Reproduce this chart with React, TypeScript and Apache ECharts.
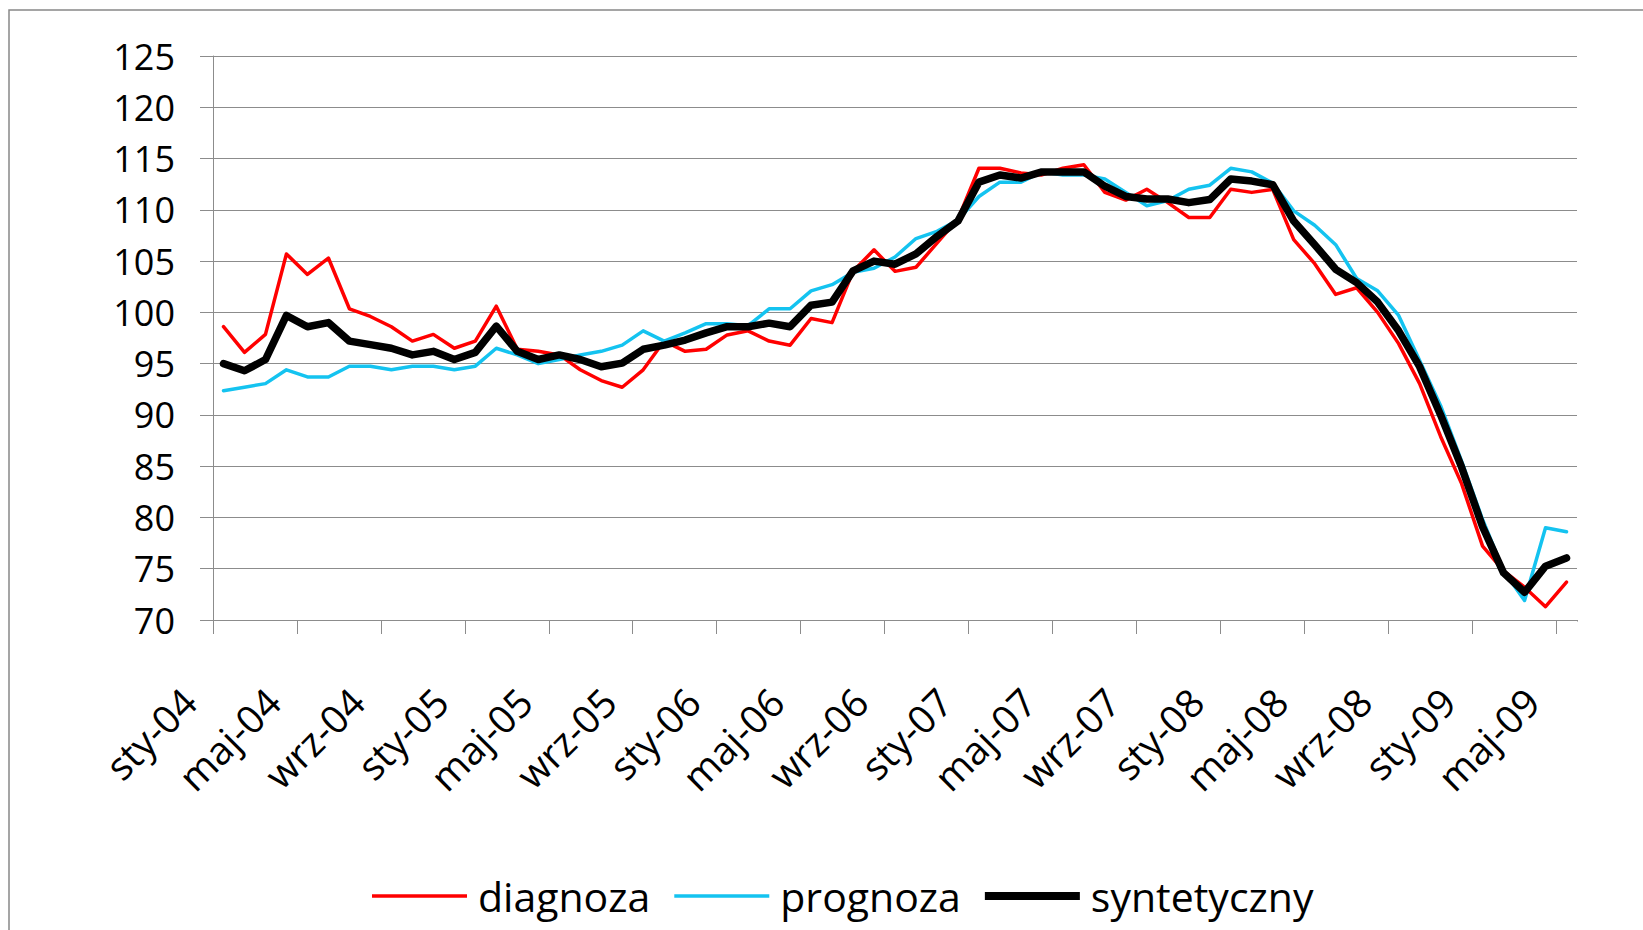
import React, { useEffect, useRef } from "react";
import * as echarts from "echarts";

const categories: string[] = [
  "sty-04", "lut-04", "mar-04", "kwi-04", "maj-04", "cze-04", "lip-04", "sie-04", "wrz-04", "paź-04", "lis-04", "gru-04",
  "sty-05", "lut-05", "mar-05", "kwi-05", "maj-05", "cze-05", "lip-05", "sie-05", "wrz-05", "paź-05", "lis-05", "gru-05",
  "sty-06", "lut-06", "mar-06", "kwi-06", "maj-06", "cze-06", "lip-06", "sie-06", "wrz-06", "paź-06", "lis-06", "gru-06",
  "sty-07", "lut-07", "mar-07", "kwi-07", "maj-07", "cze-07", "lip-07", "sie-07", "wrz-07", "paź-07", "lis-07", "gru-07",
  "sty-08", "lut-08", "mar-08", "kwi-08", "maj-08", "cze-08", "lip-08", "sie-08", "wrz-08", "paź-08", "lis-08", "gru-08",
  "sty-09", "lut-09", "mar-09", "kwi-09", "maj-09",
];

const diagnoza: number[] = [
  98.6, 96.1, 97.85, 105.7, 103.7, 105.3, 100.35, 99.6, 98.6, 97.2, 97.85, 96.5,
  97.2, 100.6, 96.4, 96.2, 95.85, 94.4, 93.35, 92.7, 94.4, 97.2, 96.2, 96.4,
  97.8, 98.2, 97.2, 96.8, 99.4, 99.0, 104.0, 106.1, 104.0, 104.4, 106.75, 109.1,
  114.05, 114.05, 113.6, 113.4, 114.05, 114.4, 111.7, 110.95, 112.0, 110.7, 109.25, 109.25,
  112.0, 111.7, 112.0, 107.1, 104.75, 101.75, 102.4, 100.0, 96.95, 93.05, 87.9, 83.3,
  77.2, 74.8, 73.2, 71.3, 73.7,
];

const prognoza: number[] = [
  92.35, 92.7, 93.05, 94.4, 93.7, 93.7, 94.75, 94.75, 94.4, 94.75, 94.75, 94.4,
  94.75, 96.5, 95.85, 95.0, 95.4, 95.85, 96.2, 96.8, 98.2, 97.2, 98.0, 98.9,
  98.9, 98.7, 100.35, 100.35, 102.1, 102.7, 103.9, 104.3, 105.4, 107.2, 107.9, 109.0,
  111.3, 112.7, 112.7, 113.7, 113.4, 113.4, 113.0, 111.7, 110.4, 110.9, 112.0, 112.4,
  114.05, 113.7, 112.6, 109.9, 108.5, 106.6, 103.3, 102.1, 99.7, 95.3, 90.9, 85.5,
  79.8, 74.8, 71.9, 79.0, 78.6,
];

const syntetyczny: number[] = [
  95.0, 94.3, 95.4, 99.7, 98.6, 99.0, 97.2, 96.85, 96.5, 95.85, 96.2, 95.4,
  96.1, 98.65, 96.2, 95.4, 95.85, 95.4, 94.7, 95.05, 96.4, 96.8, 97.3, 98.0,
  98.6, 98.6, 98.95, 98.6, 100.7, 101.0, 104.05, 105.0, 104.7, 105.7, 107.4, 108.9,
  112.7, 113.4, 113.1, 113.7, 113.7, 113.7, 112.3, 111.3, 111.05, 111.05, 110.7, 111.0,
  113.0, 112.8, 112.45, 108.9, 106.6, 104.2, 102.9, 101.0, 98.2, 94.7, 90.0, 84.9,
  79.1, 74.6, 72.7, 75.25, 76.05,
];

const seriesNames: string[] = ["diagnoza", "prognoza", "syntetyczny"];
const seriesColors: string[] = ["#ff0000", "#14c3f0", "#000000"];

const FONT = "'Open Sans', sans-serif";
const GRAY = "#8c8c8c";

export default function App() {
  const ref = useRef<HTMLDivElement>(null);

  useEffect(() => {
    if (!ref.current) return;
    const chart = echarts.init(ref.current, undefined, { renderer: "svg" });
    const thinIcon = "path://M0,0L0,0M0,2.2L95,2.2L95,5.8L0,5.8ZM0,8L0,8";
    const thickIcon = "path://M0,0L95,0L95,8L0,8Z";
    chart.setOption({
      animation: false,
      backgroundColor: "#ffffff",
      textStyle: { fontFamily: FONT },
      graphic: [
        {
          type: "rect",
          silent: true,
          shape: { x: 9, y: 10, width: 1700, height: 1000 },
          style: { fill: "none", stroke: "#888888", lineWidth: 1.5 },
        },
        {
          // masks the extra end-of-axis tick that ECharts adds after the last category
          type: "rect",
          silent: true,
          z: 100,
          shape: { x: 1572, y: 621.5, width: 20, height: 20 },
          style: { fill: "#ffffff" },
        },
      ],
      grid: { left: 213, right: 66, top: 56, bottom: 310, containLabel: false },
      legend: {
        data: [
          { name: seriesNames[0], icon: thinIcon },
          { name: seriesNames[1], icon: thinIcon },
          { name: seriesNames[2], icon: thickIcon },
        ],
        left: 372,
        top: 872,
        padding: 0,
        itemWidth: 95,
        itemHeight: 8,
        itemGap: 24,
        itemStyle: { borderWidth: 0 },
        textStyle: {
          fontFamily: FONT,
          fontSize: 41,
          lineHeight: 48,
          color: "#000",
          padding: [0, 0, 0, 6],
        },
      },
      xAxis: {
        type: "category",
        data: categories,
        boundaryGap: true,
        axisLine: { show: true, lineStyle: { color: GRAY, width: 1 } },
        axisTick: {
          show: true,
          interval: 3,
          length: 14,
          alignWithLabel: false,
          lineStyle: { color: GRAY, width: 1 },
        },
        axisLabel: {
          interval: 3,
          rotate: 45,
          fontSize: 39,
          fontFamily: FONT,
          color: "#000",
          margin: 40,
          padding: [0, 49, 0, 0],
        },
        splitLine: { show: false },
      },
      yAxis: {
        type: "value",
        min: 70,
        max: 125,
        interval: 5,
        axisLine: { show: true, lineStyle: { color: GRAY, width: 1 } },
        axisTick: { show: true, length: 13, lineStyle: { color: GRAY, width: 1 } },
        axisLabel: { fontSize: 36, fontFamily: FONT, color: "#000", margin: 38 },
        splitLine: { show: true, lineStyle: { color: GRAY, width: 1 } },
      },
      series: [
        {
          name: seriesNames[0],
          type: "line",
          data: diagnoza,
          symbol: "none",
          silent: true,
          itemStyle: { color: seriesColors[0] },
          lineStyle: { color: seriesColors[0], width: 3.5, cap: "round", join: "round" },
        },
        {
          name: seriesNames[1],
          type: "line",
          data: prognoza,
          symbol: "none",
          silent: true,
          itemStyle: { color: seriesColors[1] },
          lineStyle: { color: seriesColors[1], width: 3.5, cap: "round", join: "round" },
        },
        {
          name: seriesNames[2],
          type: "line",
          data: syntetyczny,
          symbol: "none",
          silent: true,
          itemStyle: { color: seriesColors[2] },
          lineStyle: { color: seriesColors[2], width: 7.5, cap: "round", join: "round" },
        },
      ],
    });
    return () => chart.dispose();
  }, []);

  return (
    <div
      ref={ref}
      style={{
        position: "fixed",
        left: 0,
        top: 0,
        width: 1643,
        height: 930,
        background: "#fff",
      }}
    />
  );
}
